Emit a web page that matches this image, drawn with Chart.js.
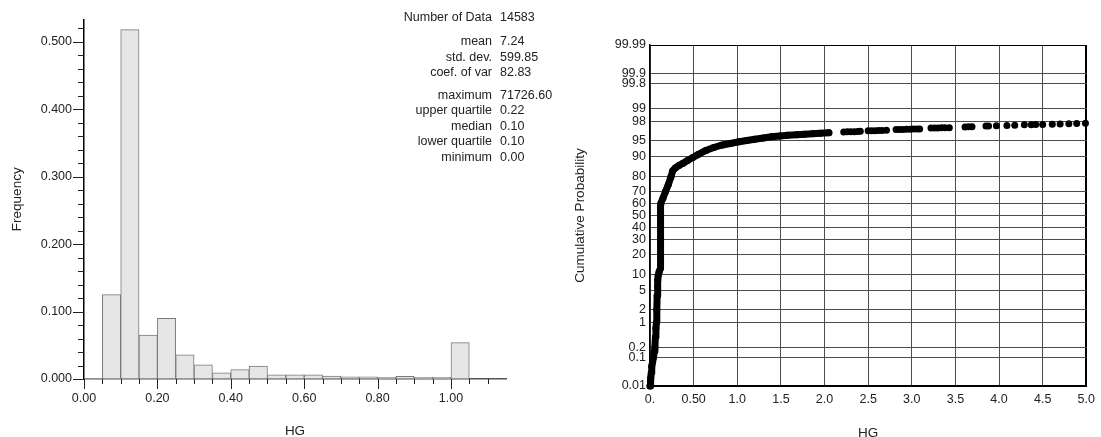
<!DOCTYPE html>
<html>
<head>
<meta charset="utf-8">
<script src="https://cdn.jsdelivr.net/npm/chart.js@4.4.0/dist/chart.umd.min.js"></script>
<style>
  html, body { margin: 0; padding: 0; background: #fff; }
  #wrap { position: relative; width: 1101px; height: 437px; }
  #histBox { position: absolute; left: 0; top: 0; width: 560px; height: 437px; }
  #probBox { position: absolute; left: 560px; top: 0; width: 541px; height: 437px; }
</style>
</head>
<body>
<div id="wrap">
  <div id="histBox"><canvas id="histCanvas" width="560" height="437"></canvas></div>
  <div id="probBox"><canvas id="probCanvas" width="541" height="437"></canvas></div>
</div>
<script>
// histogram (bin width 0.05)
const binStarts = [0.00, 0.05, 0.10, 0.15, 0.20, 0.25, 0.30, 0.35, 0.40, 0.45, 0.50,
                   0.55, 0.60, 0.65, 0.70, 0.75, 0.80, 0.85, 0.90, 0.95, 1.00];
const binFreq = [0.0005, 0.125, 0.518, 0.065, 0.090, 0.036, 0.021, 0.009, 0.014, 0.019, 0.006,
                 0.006, 0.006, 0.0044, 0.0034, 0.0034, 0.0024, 0.004, 0.0024, 0.0024, 0.054];
const binWidth = 0.05;
const freqTickValues = [0, 0.1, 0.2, 0.3, 0.4, 0.5];
const freqTickLabels = ['0.000', '0.100', '0.200', '0.300', '0.400', '0.500'];
const hgHistTickValues = [0, 0.2, 0.4, 0.6, 0.8, 1.0];
const hgHistTickLabels = ['0.00', '0.20', '0.40', '0.60', '0.80', '1.00'];

const statNames = ['Number of Data', 'mean', 'std. dev.', 'coef. of var', 'maximum',
                   'upper quartile', 'median', 'lower quartile', 'minimum'];
const statValues = ['14583', '7.24', '599.85', '82.83', '71726.60', '0.22', '0.10', '0.10', '0.00'];

// cumulative probability plot
const hgCurve = [0.00, 0.005, 0.01, 0.015, 0.02, 0.03, 0.04, 0.05, 0.056, 0.062, 0.068, 0.075,
                 0.078, 0.082, 0.086, 0.09, 0.094, 0.105, 0.12, 0.12, 0.12, 0.12, 0.12, 0.12,
                 0.125, 0.15, 0.178, 0.21, 0.24, 0.26, 0.29, 0.33, 0.38, 0.43, 0.49, 0.55, 0.64, 0.73,
                 0.83, 0.92, 1.02, 1.11, 1.20, 1.30, 1.39, 1.49, 1.58, 1.68, 1.77, 1.86, 1.95, 2.05];
const probCurve = [0.01, 0.015, 0.02, 0.03, 0.05, 0.07, 0.1, 0.15, 0.2, 0.4, 0.7, 1,
                   2, 4, 6, 8, 9.5, 11, 12.5, 20, 30, 40, 50, 57,
                   60, 65, 70, 75, 80, 83.5, 85.0, 86.2, 87.3, 88.5, 89.7, 90.8, 92.2, 93.1,
                   93.8, 94.2, 94.6, 94.9, 95.2, 95.45, 95.7, 95.85, 96.0, 96.1, 96.2, 96.28, 96.35, 96.45];
const hgTail = [2.22, 2.26, 2.30, 2.34, 2.38, 2.41,
                2.50, 2.54, 2.58, 2.62, 2.66, 2.71,
                2.82, 2.86, 2.90, 2.94, 2.98, 3.02, 3.06, 3.09,
                3.22, 3.26, 3.30, 3.34, 3.38, 3.43,
                3.61, 3.65, 3.69, 3.85, 3.88,
                3.97, 4.09, 4.18, 4.29, 4.37, 4.42, 4.50, 4.61, 4.70, 4.80, 4.89, 4.99];
const probTail = [96.58, 96.6, 96.61, 96.63, 96.66, 96.68,
                  96.76, 96.77, 96.79, 96.8, 96.83, 96.85,
                  96.95, 96.96, 96.98, 97.0, 97.01, 97.03, 97.04, 97.05,
                  97.17, 97.18, 97.2, 97.21, 97.22, 97.23,
                  97.33, 97.35, 97.36, 97.45, 97.47,
                  97.5, 97.53, 97.56, 97.6, 97.62, 97.63, 97.65, 97.68, 97.7, 97.72, 97.75, 97.78];
const probTickValues = [0.01, 0.1, 0.2, 1, 2, 5, 10, 20, 30, 40, 50, 60, 70, 80, 90, 95, 98, 99, 99.8, 99.9, 99.99];
const probTickLabels = ['0.01', '0.1', '0.2', '1', '2', '5', '10', '20', '30', '40', '50', '60', '70', '80', '90', '95', '98', '99', '99.8', '99.9', '99.99'];
const hgProbTickValues = [0, 0.5, 1.0, 1.5, 2.0, 2.5, 3.0, 3.5, 4.0, 4.5, 5.0];
const hgProbTickLabels = ['0.', '0.50', '1.0', '1.5', '2.0', '2.5', '3.0', '3.5', '4.0', '4.5', '5.0'];

// inverse normal cdf (Acklam)
function probit(p) {
  const a = [-3.969683028665376e+01, 2.209460984245205e+02, -2.759285104469687e+02, 1.383577518672690e+02, -3.066479806614716e+01, 2.506628277459239e+00];
  const b = [-5.447609879822406e+01, 1.615858368580409e+02, -1.556989798598866e+02, 6.680131188771972e+01, -1.328068155288572e+01];
  const c = [-7.784894002430293e-03, -3.223964580411365e-01, -2.400758277161838e+00, -2.549732539343734e+00, 4.374664141464968e+00, 2.938163982698783e+00];
  const d = [7.784695709041462e-03, 3.224671290700398e-01, 2.445134137142996e+00, 3.754408661907416e+00];
  const pl = 0.02425;
  if (p < pl) {
    const q = Math.sqrt(-2 * Math.log(p));
    return (((((c[0]*q+c[1])*q+c[2])*q+c[3])*q+c[4])*q+c[5]) / ((((d[0]*q+d[1])*q+d[2])*q+d[3])*q+1);
  }
  if (p > 1 - pl) {
    const q = Math.sqrt(-2 * Math.log(1 - p));
    return -(((((c[0]*q+c[1])*q+c[2])*q+c[3])*q+c[4])*q+c[5]) / ((((d[0]*q+d[1])*q+d[2])*q+d[3])*q+1);
  }
  const q = p - 0.5, r = q * q;
  return (((((a[0]*r+a[1])*r+a[2])*r+a[3])*r+a[4])*r+a[5])*q / (((((b[0]*r+b[1])*r+b[2])*r+b[3])*r+b[4])*r+1);
}

const fontFamily = '"Liberation Sans", Arial, sans-serif';
const tickFont = { family: fontFamily, size: 12.5 };
const titleFont = { family: fontFamily, size: 13.5 };
const textColor = '#222';

// minor/major ticks + stats block for the histogram
const histExtras = {
  id: 'histExtras',
  afterDraw(chart) {
    const { ctx, scales: { x, y } } = chart;
    ctx.save();
    ctx.strokeStyle = '#222';
    ctx.lineWidth = 1;
    ctx.beginPath();
    for (let i = 0; i <= 26; i++) {
      const py = Math.round(y.getPixelForValue(i * 0.02)) + 0.5;
      const len = i % 5 === 0 ? 11 : 6;
      ctx.moveTo(y.right - len, py);
      ctx.lineTo(y.right, py);
    }
    for (let i = 0; i <= 22; i++) {
      const px = Math.round(x.getPixelForValue(i * 0.05)) + 0.5;
      const len = i % 4 === 0 ? 10 : 5;
      ctx.moveTo(px, x.top);
      ctx.lineTo(px, x.top + len);
    }
    ctx.stroke();

    ctx.font = '12.5px ' + fontFamily;
    ctx.fillStyle = textColor;
    ctx.textBaseline = 'middle';
    statNames.forEach((name, i) => {
      const rowY = 18 + i * 15.5 + (i >= 1 ? 8.5 : 0) + (i >= 4 ? 7 : 0);
      ctx.textAlign = 'right';
      ctx.fillText(name, 492, rowY);
      ctx.textAlign = 'left';
      ctx.fillText(statValues[i], 500, rowY);
    });
    ctx.restore();
  }
};

new Chart(document.getElementById('histCanvas'), {
  type: 'bar',
  data: {
    datasets: [{
      data: binStarts.map((s, i) => ({ x: s + binWidth / 2, y: binFreq[i] })),
      backgroundColor: '#e6e6e6',
      borderColor: '#7a7a7a',
      borderWidth: 1,
      borderSkipped: false,
      barPercentage: 1,
      categoryPercentage: 1
    }]
  },
  options: {
    responsive: false,
    devicePixelRatio: 1,
    animation: false,
    layout: { padding: { top: 12, right: 54, left: 0, bottom: 0 } },
    plugins: { legend: { display: false }, tooltip: { enabled: false } },
    scales: {
      x: {
        type: 'linear',
        min: 0,
        max: 1.15,
        offset: false,
        afterBuildTicks: s => { s.ticks = hgHistTickValues.map(v => ({ value: v })); },
        afterFit: s => { s.height = 58; },
        grid: { display: false, drawTicks: false, offset: false },
        border: { display: true, color: '#555', width: 1.5 },
        ticks: { callback: (v, i) => hgHistTickLabels[i], padding: 12, font: tickFont, color: textColor, autoSkip: false, maxRotation: 0 },
        title: { display: true, text: 'HG', font: titleFont, color: textColor, padding: { top: 0, bottom: -2 } }
      },
      y: {
        min: 0,
        max: 0.533,
        afterBuildTicks: s => { s.ticks = freqTickValues.map(v => ({ value: v })); },
        afterFit: s => { s.width = 84; },
        grid: { display: false, drawTicks: false },
        border: { display: true, color: '#000', width: 1.5 },
        ticks: { callback: (v, i) => freqTickLabels[i], padding: 12, font: tickFont, color: textColor, autoSkip: false },
        title: { display: true, text: 'Frequency', font: titleFont, color: textColor, padding: { top: 9, bottom: 0 } }
      }
    }
  },
  plugins: [histExtras]
});

const zMin = probit(0.0001);
const zMax = probit(0.9999);

new Chart(document.getElementById('probCanvas'), {
  type: 'scatter',
  data: {
    datasets: [{
      data: hgCurve.map((v, i) => ({ x: v, y: probit(probCurve[i] / 100) })),
      showLine: true,
      borderColor: '#000',
      borderWidth: 7,
      borderCapStyle: 'round',
      borderJoinStyle: 'round',
      pointRadius: 3.5,
      pointBackgroundColor: '#000',
      pointBorderWidth: 0,
      clip: false
    }, {
      data: hgTail.map((v, i) => ({ x: v, y: probit(probTail[i] / 100) })),
      showLine: false,
      pointRadius: 3.5,
      pointBackgroundColor: '#000',
      pointBorderWidth: 0,
      clip: false
    }]
  },
  options: {
    responsive: false,
    devicePixelRatio: 1,
    animation: false,
    layout: { padding: { top: 45, right: 8, left: 0, bottom: 0 } },
    plugins: { legend: { display: false }, tooltip: { enabled: false } },
    scales: {
      x: {
        type: 'linear',
        min: 0,
        max: 5,
        afterBuildTicks: s => { s.ticks = hgProbTickValues.map(v => ({ value: v })); },
        afterFit: s => { s.height = 51; },
        grid: {
          drawTicks: false,
          color: c => (c.index === hgProbTickValues.length - 1 ? '#000' : '#4d4d4d'),
          lineWidth: c => (c.index === hgProbTickValues.length - 1 ? 2 : 1)
        },
        border: { display: true, color: '#000', width: 2 },
        ticks: { callback: (v, i) => hgProbTickLabels[i], padding: 6, font: tickFont, color: textColor, autoSkip: false, maxRotation: 0 },
        title: { display: true, text: 'HG', font: titleFont, color: textColor, padding: { top: 0, bottom: -4 } }
      },
      y: {
        type: 'linear',
        min: zMin,
        max: zMax,
        afterBuildTicks: s => { s.ticks = probTickValues.map(p => ({ value: probit(p / 100) })); },
        afterFit: s => { s.width = 90; },
        grid: {
          drawTicks: false,
          color: c => (c.index === probTickValues.length - 1 ? '#000' : '#4d4d4d'),
          lineWidth: 1
        },
        border: { display: true, color: '#000', width: 1.5 },
        ticks: { callback: (v, i) => probTickLabels[i], padding: 4, font: tickFont, color: textColor, autoSkip: false },
        title: { display: true, text: 'Cumulative Probability', font: titleFont, color: textColor, padding: { top: 12, bottom: 0 } }
      }
    }
  }
});
</script>
</body>
</html>
